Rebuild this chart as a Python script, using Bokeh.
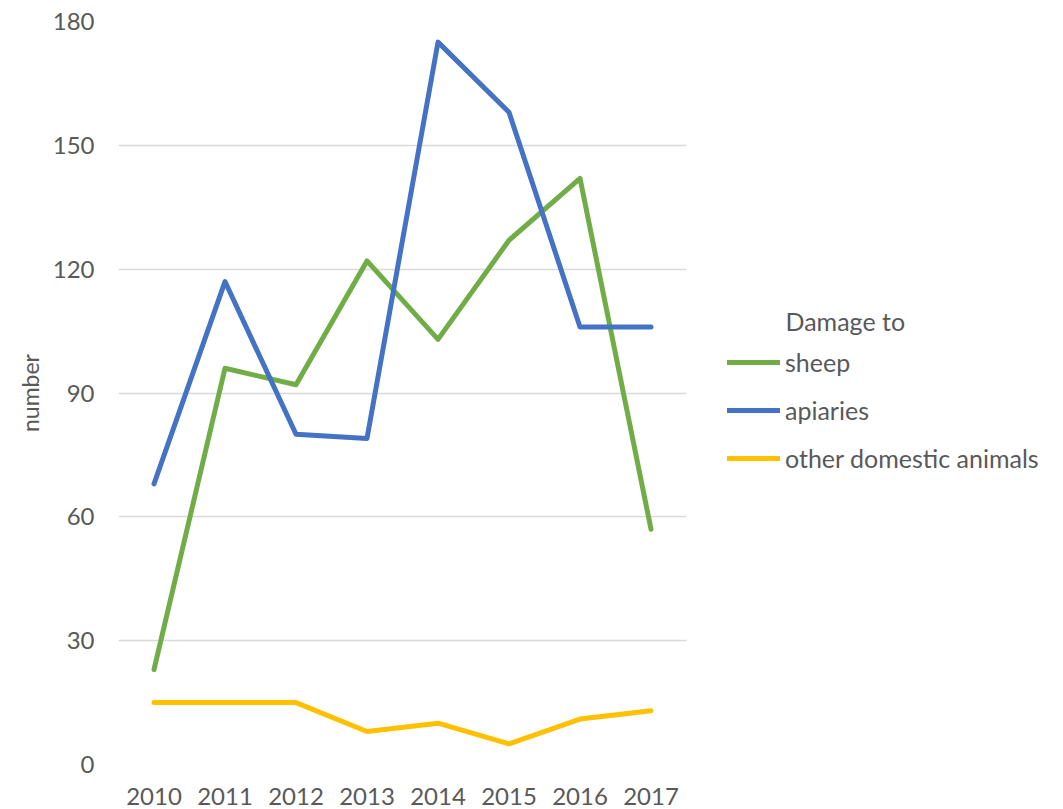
from bokeh.plotting import figure
from bokeh.models import Range1d, FixedTicker, Legend, LegendItem, Label
from bokeh.embed import file_html
from bokeh.resources import INLINE

years = [2010, 2011, 2012, 2013, 2014, 2015, 2016, 2017]
sheep = [23, 96, 92, 122, 103, 127, 142, 57]
apiaries = [68, 117, 80, 79, 175, 158, 106, 106]
other = [15, 15, 15, 8, 10, 5, 11, 13]
series_names = ["sheep", "apiaries", "other domestic animals"]
colors = ["#70ad47", "#4472c4", "#ffc000"]
y_ticks = [0, 30, 60, 90, 120, 150, 180]

FONT = "Lato"
TXT = "#595959"

PX = 8 / 568.0          # data units per pixel along x
EXTRA = 360             # pixels to the right of the category area for the legend
x0, x1 = years[0] - 0.5, years[-1] + 0.5

p = figure(x_range=Range1d(x0, x1 + EXTRA * PX), y_range=Range1d(0, 180),
           frame_width=568 + EXTRA, frame_height=743,
           min_border_left=118, min_border_top=21, min_border_right=5, min_border_bottom=45,
           output_backend="svg", toolbar_location=None)
p.outline_line_color = None
p.background_fill_color = "white"

renderers = []
for vals, c in zip([sheep, apiaries, other], colors):
    r = p.line(years, vals, line_color=c, line_width=5, line_cap="round", line_join="round")
    renderers.append(r)

p.xaxis.ticker = FixedTicker(ticks=years)
p.yaxis.ticker = FixedTicker(ticks=y_ticks)
p.ygrid.grid_line_color = "#d9d9d9"
p.ygrid.grid_line_width = 1.5
p.ygrid.cross_bounds = (x0, x1)
p.xgrid.grid_line_color = None
for ax in [p.xaxis[0], p.yaxis[0]]:
    ax.axis_line_color = None
    ax.major_tick_line_color = None
    ax.minor_tick_line_color = None
    ax.major_label_text_font = FONT
    ax.major_label_text_font_size = "24px"
    ax.major_label_text_color = TXT
p.yaxis.major_label_standoff = 18
p.xaxis.major_label_standoff = 17
p.yaxis.axis_label = "number"
p.yaxis.axis_label_text_font = FONT
p.yaxis.axis_label_text_font_style = "normal"
p.yaxis.axis_label_text_font_size = "23px"
p.yaxis.axis_label_text_color = TXT
p.yaxis.axis_label_standoff = 6

items = [LegendItem(label=n, renderers=[r]) for n, r in zip(series_names, renderers)]
legend = Legend(items=items, location=(609, 291), orientation="vertical",
                label_text_font=FONT, label_text_font_size="25px", label_text_color=TXT,
                glyph_width=53, glyph_height=24, label_height=24, label_standoff=5,
                spacing=18, padding=0, margin=0,
                background_fill_alpha=0, border_line_color=None)
p.add_layout(legend, "center")

title = Label(x=667, y=444, x_units="screen", y_units="screen", text="Damage to",
              text_font=FONT, text_font_size="25px", text_color=TXT,
              text_baseline="middle", text_align="left")
p.add_layout(title)

open("out.html", "w").write(file_html(p, INLINE))
